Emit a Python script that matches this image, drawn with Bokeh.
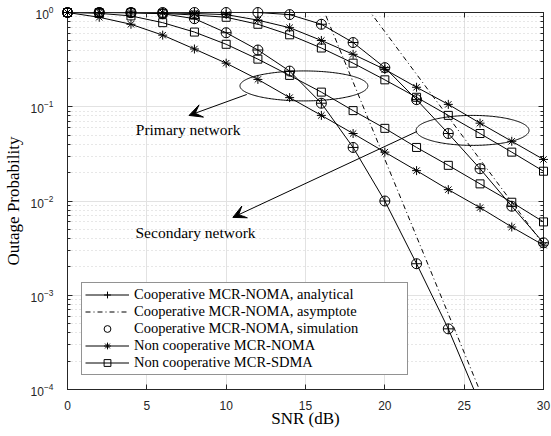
import numpy as np
from bokeh.plotting import figure
from bokeh.models import (Range1d, LogAxis, LinearAxis, LogTicker, FixedTicker, Legend,
                          LegendItem, Label, Arrow, VeeHead)
from bokeh.embed import file_html
from bokeh.resources import INLINE

# ---------------- data ----------------
snr = [0, 2, 4, 6, 8, 10, 12, 14, 16, 18, 20, 22, 24, 26, 28, 30]
x_ticks = [0, 5, 10, 15, 20, 25, 30]

# primary network (lower group of curves)
snr_coop_p = [0, 2, 4, 6, 8, 10, 12, 14, 16, 18, 20, 22, 24, 26]
coop_p_analytical = [1.0, 1.0, 0.995, 0.97, 0.86, 0.61, 0.40, 0.239, 0.109, 0.037, 0.0100,
                     0.00216, 0.00044, 0.00007]
snr_coop_p_sim = [0, 2, 4, 6, 8, 10, 12, 14, 16, 18, 20, 22, 24]
coop_p_simulation = [1.0, 1.0, 0.995, 0.97, 0.86, 0.61, 0.40, 0.239, 0.109, 0.037, 0.0100,
                     0.00216, 0.00044]
noma_p = [1.0, 0.89, 0.75, 0.575, 0.41, 0.29, 0.195, 0.125, 0.081, 0.052, 0.033, 0.021,
          0.0132, 0.0085, 0.0053, 0.0034]
sdma_p = [1.0, 0.98, 0.92, 0.78, 0.62, 0.46, 0.32, 0.215, 0.143, 0.091, 0.059, 0.037,
          0.0239, 0.0152, 0.0097, 0.006]
asym_p_snr = [16, 18, 20, 22, 24, 26]
asym_p = [1.21, 0.183, 0.0277, 0.00419, 0.000634, 0.000096]

# secondary network (upper group of curves)
coop_s_analytical = [1.0, 1.0, 1.0, 1.0, 1.0, 1.0, 1.0, 0.95, 0.75, 0.48, 0.26, 0.119, 0.052,
                     0.022, 0.0088, 0.0036]
coop_s_simulation = coop_s_analytical
noma_s = [1.0, 1.0, 1.0, 0.995, 0.975, 0.95, 0.83, 0.69, 0.505, 0.36, 0.249, 0.161, 0.106,
          0.067, 0.043, 0.0276]
sdma_s = [1.0, 1.0, 0.995, 0.98, 0.94, 0.89, 0.75, 0.58, 0.42, 0.29, 0.193, 0.126, 0.081,
          0.052, 0.033, 0.0207]
asym_s_snr = [18, 20, 22, 24, 26, 28, 30]
asym_s = [1.77, 0.626, 0.221, 0.078, 0.0276, 0.00975, 0.00344]

legend_labels = ["Cooperative MCR-NOMA, analytical", "Cooperative MCR-NOMA, asymptote",
                 "Cooperative MCR-NOMA, simulation", "Non cooperative MCR-NOMA",
                 "Non cooperative MCR-SDMA"]

# ---------------- styles ----------------
AX = "#262626"
SERIF = "Liberation Serif"
SANS = "Liberation Sans"
DASHDOT = "5 3 1 3"

p = figure(width=551, height=436, y_axis_type="log",
           x_range=Range1d(0, 30), y_range=Range1d(1e-4, 1),
           output_backend="svg", toolbar_location=None,
           min_border_left=65, min_border_right=8, min_border_top=12, min_border_bottom=47)
p.background_fill_color = "white"
p.outline_line_color = AX
p.outline_line_width = 1

xt = FixedTicker(ticks=x_ticks)
yt = LogTicker(num_minor_ticks=10)

def style_axis(ax, show_labels):
    ax.axis_line_color = AX
    ax.major_tick_line_color = AX
    ax.minor_tick_line_color = AX
    ax.major_tick_in = 5
    ax.major_tick_out = 0
    ax.minor_tick_in = 3
    ax.minor_tick_out = 0
    ax.major_label_text_color = AX
    ax.major_label_text_font = SANS
    if show_labels:
        ax.major_label_text_font_size = "12px"
    else:
        ax.major_label_text_font_size = "1px"
        ax.major_label_text_alpha = 0
        ax.major_label_standoff = 0

p.xaxis.ticker = xt
p.yaxis.ticker = yt
for ax in p.xaxis:
    style_axis(ax, True)
    ax.minor_tick_line_color = None
    ax.major_label_standoff = 11
    ax.axis_label = "SNR (dB)"
    ax.axis_label_text_font = SERIF
    ax.axis_label_text_font_size = "17px"
    ax.axis_label_text_font_style = "normal"
    ax.axis_label_text_color = "black"
    ax.axis_label_standoff = -4
for ax in p.yaxis:
    style_axis(ax, True)
    ax.major_label_standoff = 14
    ax.axis_label = "Outage Probability"
    ax.axis_label_text_font = SERIF
    ax.axis_label_text_font_size = "17px"
    ax.axis_label_text_font_style = "normal"
    ax.axis_label_text_color = "black"
    ax.axis_label_standoff = 5

top_ax = LinearAxis(ticker=xt)
style_axis(top_ax, False)
top_ax.minor_tick_line_color = None
p.add_layout(top_ax, "above")
right_ax = LogAxis(ticker=yt)
style_axis(right_ax, False)
p.add_layout(right_ax, "right")

p.xgrid.ticker = xt
p.ygrid.ticker = yt
p.xgrid.grid_line_color = "#e2e2e2"
p.ygrid.grid_line_color = "#e2e2e2"
p.ygrid.minor_grid_line_color = "#cfcfcf"
p.ygrid.minor_grid_line_dash = "1 3"

K = "black"
LW = 1

# primary
l_cp = p.line(snr_coop_p, coop_p_analytical, line_color=K, line_width=LW)
m_cp = p.scatter(snr_coop_p[:-1], coop_p_analytical[:-1], marker="cross", size=10,
                 line_color=K, line_width=LW, level="overlay")
s_cp = p.scatter(snr_coop_p_sim, coop_p_simulation, marker="circle", size=10,
                 fill_color=None, line_color=K, line_width=LW, level="overlay")
a_p = p.line(asym_p_snr, asym_p, line_color=K, line_width=LW, line_dash=DASHDOT)
l_np = p.line(snr, noma_p, line_color=K, line_width=LW)
m_np = p.scatter(snr, noma_p, marker="asterisk", size=9, line_color=K, line_width=LW,
                 level="overlay")
l_sp = p.line(snr, sdma_p, line_color=K, line_width=LW)
m_sp = p.scatter(snr, sdma_p, marker="square", size=8, fill_color=None, line_color=K,
                 line_width=LW, level="overlay")

# secondary
p.line(snr, coop_s_analytical, line_color=K, line_width=LW)
p.scatter(snr, coop_s_analytical, marker="cross", size=10, line_color=K, line_width=LW,
          level="overlay")
p.scatter(snr, coop_s_simulation, marker="circle", size=10, fill_color=None, line_color=K,
          line_width=LW, level="overlay")
p.line(asym_s_snr, asym_s, line_color=K, line_width=LW, line_dash=DASHDOT)
p.line(snr, noma_s, line_color=K, line_width=LW)
p.scatter(snr, noma_s, marker="asterisk", size=9, line_color=K, line_width=LW, level="overlay")
p.line(snr, sdma_s, line_color=K, line_width=LW)
p.scatter(snr, sdma_s, marker="square", size=8, fill_color=None, line_color=K, line_width=LW,
          level="overlay")

# ellipses (center dB, half-width dB, center log10, half-height decades)
t = np.linspace(0, 2 * np.pi, 240)
for cx, a, cy, b in [(14.9, 4.03, -0.779, 0.159), (25.53, 3.56, -1.251, 0.159)]:
    p.line(cx + a * np.cos(t), 10 ** (cy + b * np.sin(t)), line_color=K, line_width=LW)

# arrows
for xs, ys, xe, ye in [(11.3, 0.135, 7.66, 0.0809), (22.03, 0.0547, 10.42, 0.0067)]:
    p.add_layout(Arrow(end=VeeHead(size=13, fill_color=K, line_color=K, line_width=1),
                       x_start=xs, y_start=ys, x_end=xe, y_end=ye,
                       line_color=K, line_width=LW))

for txt, x, y in [("Primary network", 7.6, 0.0574), ("Secondary network", 8.07, 0.00465)]:
    p.add_layout(Label(x=x, y=y, text=txt, text_font=SERIF, text_font_size="15.5px",
                       text_align="center", text_baseline="middle", text_color="black"))

legend = Legend(items=[
    LegendItem(label=legend_labels[0], renderers=[l_cp, m_cp]),
    LegendItem(label=legend_labels[1], renderers=[a_p]),
    LegendItem(label=legend_labels[2], renderers=[s_cp]),
    LegendItem(label=legend_labels[3], renderers=[l_np, m_np]),
    LegendItem(label=legend_labels[4], renderers=[l_sp, m_sp]),
], location=(14, 14), margin=0, padding=3, spacing=0,
    glyph_width=44, glyph_height=17, label_height=17, label_width=270, label_standoff=5,
    label_text_font=SERIF, label_text_font_size="14.5px", label_text_color="black",
    border_line_color=AX, border_line_width=1, background_fill_color="white",
    background_fill_alpha=1)
p.add_layout(legend)

open("out.html", "w").write(file_html(p, INLINE))
